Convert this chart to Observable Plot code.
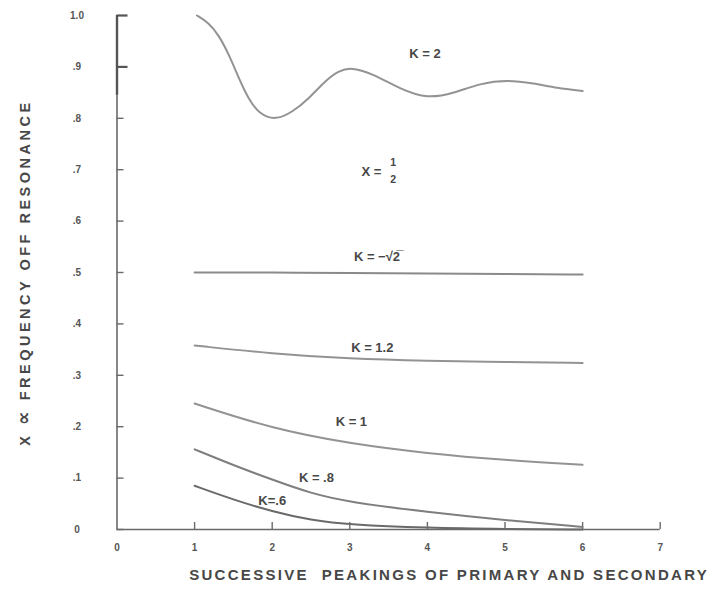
<!DOCTYPE html>
<html><head><meta charset="utf-8">
<script src="https://cdn.jsdelivr.net/npm/d3@7"></script>
<script src="https://cdn.jsdelivr.net/npm/@observablehq/plot@0.6"></script>
<style>body{margin:0;background:#fff} svg{display:block}</style>
</head><body><div id="chart"></div>
<script>
// Curve K = 2 (damped oscillation)
const xK2 = [1.03, 1.18, 1.31, 1.44, 1.57, 1.70, 1.83, 2.04, 2.26, 2.47, 2.69, 2.86, 3.03, 3.29, 3.65, 4.0, 4.34, 4.68, 5.03, 5.37, 5.67, 6.0];
const yK2 = [1.0, 0.986, 0.962, 0.925, 0.878, 0.836, 0.809, 0.796, 0.812, 0.838, 0.874, 0.893, 0.899, 0.887, 0.857, 0.838, 0.849, 0.868, 0.875, 0.868, 0.859, 0.853];
// Curves K = √2, 1.2, 1
const xMid = [1, 2, 3, 4, 5, 6];
const ySqrt2 = [0.5, 0.5, 0.499, 0.498, 0.497, 0.496];
const yK12 = [0.358, 0.342, 0.332, 0.328, 0.326, 0.324];
const yK1 = [0.245, 0.196, 0.167, 0.148, 0.135, 0.126];
// Curves K = .8 and .6
const xLow = [1, 1.5, 2, 2.5, 3, 4, 5, 6];
const yK08 = [0.156, 0.125, 0.097, 0.070, 0.053, 0.034, 0.018, 0.005];
const yK06 = [0.085, 0.058, 0.035, 0.018, 0.009, 0.003, 0.001, 0.0];

// Tick values and labels
const xTicks = [0, 1, 2, 3, 4, 5, 6, 7];
const xTickLabels = ["0", "1", "2", "3", "4", "5", "6", "7"];
const yTicks = [0, 0.1, 0.2, 0.3, 0.4, 0.5, 0.6, 0.7, 0.8, 0.9, 1.0];
const yTickLabels = ["0", ".1", ".2", ".3", ".4", ".5", ".6", ".7", ".8", ".9", "1.0"];

// Curve annotations
const labelText = ["K = 2", "K = −√2̅", "K = 1.2", "K = 1", "K = .8", "K=.6"];
const labelX = [3.97, 3.35, 3.29, 3.02, 2.57, 2.0];
const labelY = [0.926, 0.530, 0.354, 0.210, 0.101, 0.056];
// "X = 1/2" annotation (stacked fraction)
const fracText = ["X =", "1", "2"];
const fracX = [3.28, 3.56, 3.56];
const fracY = [0.695, 0.714, 0.680];

const xTitle = "SUCCESSIVE  PEAKINGS OF PRIMARY AND SECONDARY";
const yTitle = "X ∝ FREQUENCY OFF RESONANCE";

const series = [
  {name: "K2", xs: xK2, ys: yK2, color: "#939393"},
  {name: "Ksqrt2", xs: xMid, ys: ySqrt2, color: "#8a8a8a"},
  {name: "K1.2", xs: xMid, ys: yK12, color: "#939393"},
  {name: "K1", xs: xMid, ys: yK1, color: "#939393"},
  {name: "K.8", xs: xLow, ys: yK08, color: "#7e7e7e"},
  {name: "K.6", xs: xLow, ys: yK06, color: "#6a6a6a"}
];
const rows = series.flatMap(s => s.xs.map((x, i) => ({series: s.name, x, y: s.ys[i], color: s.color})));
const labels = labelText.map((t, i) => ({t, x: labelX[i], y: labelY[i]}));
const frac = fracText.map((t, i) => ({t, x: fracX[i], y: fracY[i]}));

const font = "Liberation Sans, Arial, sans-serif";
const ink = "#474747";

const chart = Plot.plot({
  width: 711,
  height: 605,
  marginLeft: 116.5,
  marginRight: 51.3,
  marginTop: 15,
  marginBottom: 76,
  style: {fontFamily: font, background: "#fff"},
  x: {domain: [0, 7], axis: null},
  y: {domain: [0, 1], axis: null},
  marks: [
    // axis lines
    Plot.ruleX([0], {stroke: "#6a6a6a", strokeWidth: 1.6}),
    Plot.ruleX([0], {y1: 0.845, y2: 1, stroke: "#555", strokeWidth: 2.4}),
    Plot.ruleY([0], {stroke: "#6a6a6a", strokeWidth: 1.6}),
    // y ticks (inward) and labels
    Plot.axisY(yTicks.filter(d => d < 0.85), {tickSize: -7, stroke: "#6a6a6a", strokeWidth: 1.4, tickFormat: () => "", label: null}),
    Plot.axisY(yTicks.filter(d => d > 0.85), {tickSize: -11, stroke: "#555", strokeWidth: 2.2, tickFormat: () => "", label: null}),
    Plot.axisY(yTicks, {tickSize: 0, tickPadding: 40, textAnchor: "middle", fontSize: 10, fontWeight: "bold", fill: "#555", label: null,
      tickFormat: d => yTickLabels[yTicks.indexOf(d)]}),
    // x ticks (inward) and labels
    Plot.axisX(xTicks.filter(d => d > 0), {tickSize: -7, stroke: "#6a6a6a", strokeWidth: 1.4, tickFormat: () => "", label: null}),
    Plot.axisX(xTicks, {tickSize: 0, tickPadding: 14, fontSize: 10, fontWeight: "bold", fill: "#555", label: null,
      tickFormat: d => xTickLabels[xTicks.indexOf(d)]}),
    // curves
    Plot.line(rows, {x: "x", y: "y", z: "series", stroke: "color", strokeWidth: 2, curve: "basis"}),
    // annotations
    Plot.text(labels, {x: "x", y: "y", text: "t", fontSize: 13, fontWeight: "bold", fill: ink}),
    Plot.text(frac.slice(0, 1), {x: "x", y: "y", text: "t", fontSize: 13, fontWeight: "bold", fill: ink}),
    Plot.text(frac.slice(1), {x: "x", y: "y", text: "t", fontSize: 10.5, fontWeight: "bold", fill: ink}),
    // axis titles
    Plot.text([xTitle], {frameAnchor: "bottom", dx: 60.5, dy: 50, fontSize: 15, fontWeight: "bold", fill: ink, text: d => d}),
    Plot.text([yTitle], {frameAnchor: "left", textAnchor: "middle", rotate: -90, dx: -91.5, fontSize: 14.5, fontWeight: "bold", fill: ink, text: d => d})
  ]
});
// letter spacing for titles; larger glyph for the proportionality sign
chart.querySelectorAll("text").forEach(t => {
  if (t.textContent === xTitle) t.style.letterSpacing = "2.3px";
  if (t.textContent === yTitle) {
    t.style.letterSpacing = "3.5px";
    const [a, b] = yTitle.split("∝");
    t.textContent = "";
    const ns = "http://www.w3.org/2000/svg";
    const s1 = document.createElementNS(ns, "tspan"); s1.textContent = a;
    const s2 = document.createElementNS(ns, "tspan"); s2.textContent = "∝";
    s2.setAttribute("font-family", "DejaVu Sans"); s2.setAttribute("font-size", "19");
    const s3 = document.createElementNS(ns, "tspan"); s3.textContent = b;
    t.append(s1, s2, s3);
  }
});
document.getElementById("chart").appendChild(chart);
</script>
</body></html>
